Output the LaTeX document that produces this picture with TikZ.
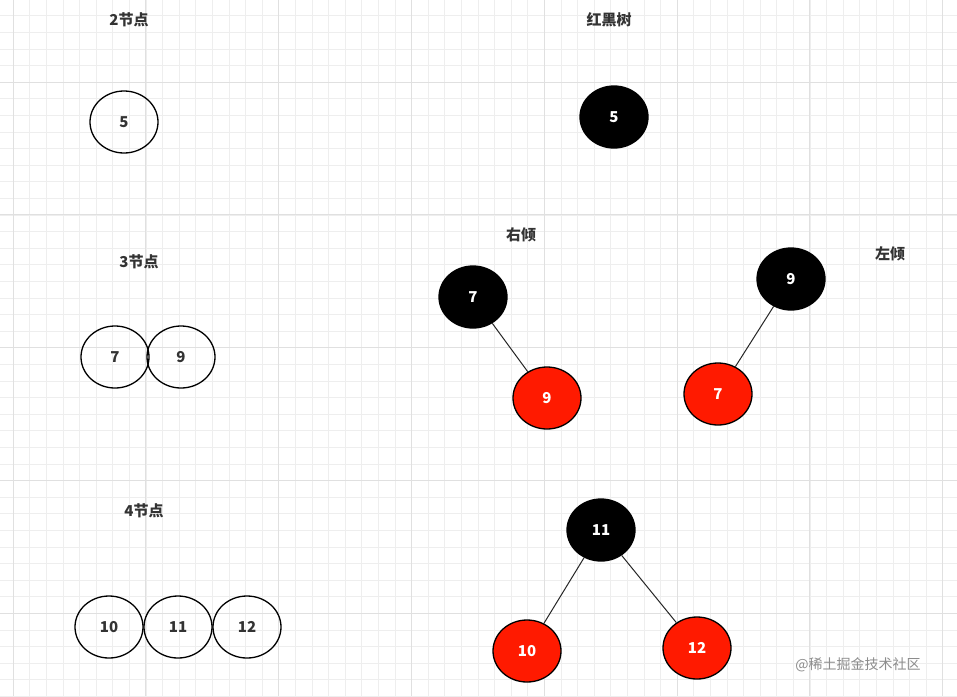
\documentclass[tikz,border=0pt]{standalone}
\usepackage{fontspec}
\setmainfont{Noto Sans CJK SC}
\usetikzlibrary{shapes.geometric}
\definecolor{gmin}{HTML}{EEEEEE}
\definecolor{gmaj}{HTML}{E0E0E0}
\definecolor{rbred}{HTML}{FF1A00}
\tikzset{
 nd/.style={ellipse,draw=black,line width=1.3pt,minimum width=68pt,minimum height=62pt,inner sep=0pt,font=\bfseries\fontsize{15}{15}\selectfont,text=black!80},
 bk/.style={nd,fill=black,text=white},
 rd/.style={nd,fill=rbred,text=white},
 ttl/.style={font=\bfseries\fontsize{15}{15}\selectfont,text=black!80},
 ln/.style={draw=black!85,line width=1pt}
}
\begin{document}
\begin{tikzpicture}[x=1pt,y=-1pt]
\useasboundingbox (0,0) rectangle (957,696);
\fill[white] (0,0) rectangle (957,696);
\foreach \i in {0,...,58} {\draw[gmin,line width=0.6pt] ({13+16.6*\i},0) -- ({13+16.6*\i},696);}
\foreach \j in {0,...,42} {\draw[gmin,line width=0.6pt] (0,{-1+16.6*\j}) -- (957,{-1+16.6*\j});}
\foreach \i in {0,...,7} {\draw[gmaj,line width=0.8pt] ({13+132.8*\i},0) -- ({13+132.8*\i},696);}
\foreach \j in {0,...,5} {\draw[gmaj,line width=0.8pt] (0,{-1+16.6*5+132.8*\j}) -- (957,{-1+16.6*5+132.8*\j});}

\node[ttl] (t2) at (129,20) {2节点};
\node[ttl] (t3) at (139,262) {3节点};
\node[ttl] (t4) at (144,511) {4节点};
\node[ttl] (trb) at (609,20) {红黑树};
\node[ttl] (tr) at (521,235) {右倾};
\node[ttl] (tl) at (890,254) {左倾};

\node[nd] (a5) at (124,122) {5};
\node[nd] (b7) at (115,357) {7};
\node[nd] (b9) at (181,357) {9};
\node[nd] (c10) at (109,627) {10};
\node[nd] (c11) at (178,627) {11};
\node[nd] (c12) at (247,627) {12};

\node[bk] (r5) at (614,117) {5};
\node[bk] (r7) at (473,297) {7};
\node[rd] (r9) at (547,398) {9};
\node[bk] (l9) at (791,279) {9};
\node[rd] (l7) at (718,394) {7};
\node[bk] (m11) at (601,530) {11};
\node[rd] (m10) at (527,651) {10};
\node[rd] (m12) at (697,648) {12};

\draw[ln] (r7) -- (r9);
\draw[ln] (l9) -- (l7);
\draw[ln] (m11) -- (m10);
\draw[ln] (m11) -- (m12);

\node[font=\fontsize{14}{14}\selectfont,text=black!45] (wm) at (858,665) {@稀土掘金技术社区};
\end{tikzpicture}
\end{document}
